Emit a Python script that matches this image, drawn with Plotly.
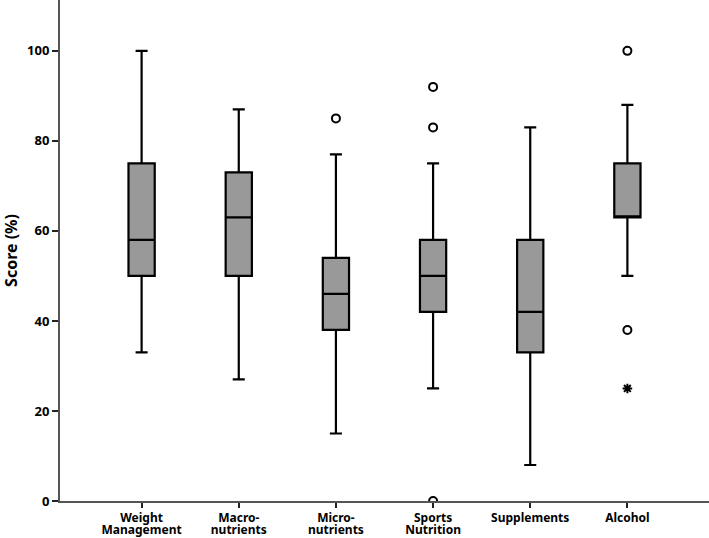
import plotly.graph_objects as go

categories_line1 = ["Weight", "Macro-", "Micro-", "Sports", "Supplements", "Alcohol"]
categories_line2 = ["Management", "nutrients", "nutrients", "Nutrition", "", ""]
upper_whisker = [100, 87, 77, 75, 83, 88]
q3_values = [75, 73, 54, 58, 58, 75]
median_values = [58, 63, 46, 50, 42, 63]
q1_values = [50, 50, 38, 42, 33, 63]
lower_whisker = [33, 27, 15, 25, 8, 50]

# outliers (circles): category index, value
outlier_cat = [2, 3, 3, 3, 5, 5]
outlier_val = [85, 92, 83, 0, 100, 38]
# extreme values (asterisk)
extreme_cat = [5]
extreme_val = [25]

y_ticks = [0, 20, 40, 60, 80, 100]

positions = list(range(len(categories_line1)))
x_range = [-0.84, 5.84]

fig = go.Figure()
fig.add_trace(go.Box(
    x=positions,
    q1=q1_values, median=median_values, q3=q3_values,
    lowerfence=lower_whisker, upperfence=upper_whisker,
    width=0.27, whiskerwidth=0.46,
    fillcolor="#999999",
    line=dict(color="black", width=2.2),
    boxpoints=False, showlegend=False, hoverinfo="skip",
))
fig.add_trace(go.Scatter(
    x=outlier_cat, y=outlier_val, mode="markers",
    marker=dict(symbol="circle-open", size=8, color="black", line=dict(width=2, color="black")),
    showlegend=False,
))
fig.add_trace(go.Scatter(
    x=extreme_cat, y=extreme_val, mode="markers",
    marker=dict(symbol="asterisk-open", size=8, color="black", line=dict(width=2, color="black")),
    showlegend=False,
))
# invisible carrier trace so the second-line label axis is drawn
fig.add_trace(go.Scatter(
    x=positions, y=median_values, xaxis="x2", yaxis="y", mode="markers",
    marker=dict(opacity=0, size=1), showlegend=False, hoverinfo="skip",
))

font_family = "Noto Sans"
fig.update_layout(
    width=709, height=538,
    margin=dict(l=60, r=0, t=0, b=37, pad=0),
    paper_bgcolor="white", plot_bgcolor="white",
    font=dict(family=font_family, color="black"),
    xaxis=dict(
        range=x_range, automargin=False,
        tickmode="array", tickvals=positions, ticktext=categories_line1,
        showline=True, linecolor="#555555", linewidth=2,
        ticks="outside", ticklen=5, tickwidth=2, tickcolor="#222222",
        tickfont=dict(size=12, weight=700, family=font_family),
        ticklabelstandoff=0,
        showgrid=False, zeroline=False,
    ),
    xaxis2=dict(
        range=x_range, overlaying="x", side="bottom", automargin=False,
        tickmode="array", tickvals=positions, ticktext=categories_line2,
        showline=False, ticks="", ticklen=0,
        tickfont=dict(size=12, weight=700, family=font_family),
        ticklabelstandoff=20,
        showgrid=False, zeroline=False,
    ),
    yaxis=dict(
        range=[0, 111.3], automargin=False,
        tickmode="array", tickvals=y_ticks,
        showline=True, linecolor="#555555", linewidth=2,
        ticks="outside", ticklen=6, tickwidth=2, tickcolor="#222222",
        tickfont=dict(size=13, weight=700, family=font_family),
        ticklabelstandoff=0,
        title=dict(text="Score (%)", font=dict(size=16, weight=700, family=font_family), standoff=5),
        showgrid=False, zeroline=False,
    ),
)

fig.write_html("out.html", config={"displayModeBar": False},
               post_script="document.body.style.margin='0';")
